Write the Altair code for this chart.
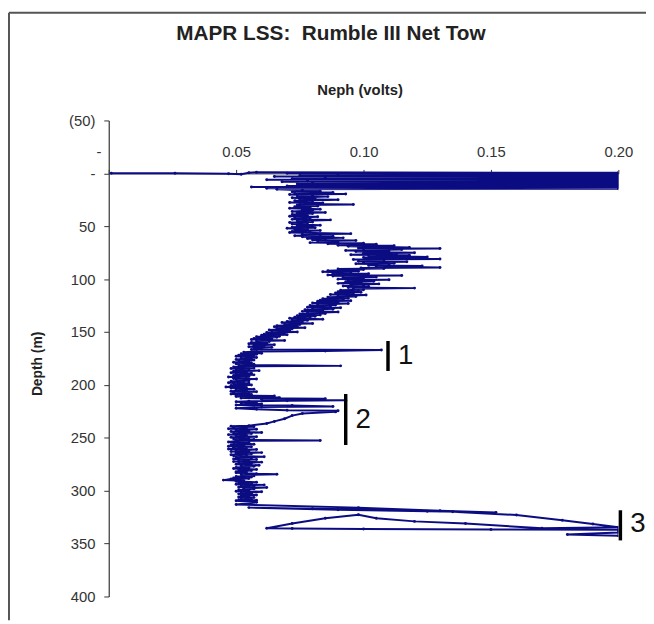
import altair as alt
import pandas as pd

TITLE = "MAPR LSS:\u00a0 Rumble III Net Tow"
X_TITLE = "Neph (volts)"
Y_TITLE = "Depth (m)"
x_ticks = [0, 0.05, 0.10, 0.15, 0.20]
y_ticks = [-50, 0, 50, 100, 150, 200, 250, 300, 350, 400]

# (depth m, neph volts) read from the profile, in tow order
seg_surface = [(0.0, 0.001), (0.0, 0.026), (0.3, 0.047), (0.8, 0.052), (-0.5, 0.055)]
seg_block = [(-1.0, 0.058), (-0.5, 0.2), (0.0, 0.07), (0.5, 0.2), (1.0, 0.09), (1.5, 0.2),
             (2.0, 0.075), (2.5, 0.2), (3.0, 0.065), (3.5, 0.2), (4.0, 0.085), (4.5, 0.2),
             (5.0, 0.072), (5.5, 0.2), (6.0, 0.062), (6.5, 0.2), (7.0, 0.078), (7.5, 0.2),
             (8.0, 0.068), (8.5, 0.2), (9.0, 0.08), (9.5, 0.2), (10.0, 0.074), (10.5, 0.2),
             (11.0, 0.082), (11.5, 0.2), (12.0, 0.07), (12.5, 0.2), (13.0, 0.056), (13.5, 0.2),
             (14.0, 0.062), (14.5, 0.2), (15.0, 0.066)]
seg_upper = [(16, 0.076), (17, 0.083), (17.5, 0.072), (18, 0.088), (19, 0.073), (19.5, 0.093),
             (20, 0.071), (21, 0.08), (21.5, 0.074), (22, 0.086), (23, 0.072), (24, 0.081),
             (24.5, 0.075), (25, 0.09), (26, 0.073), (27, 0.08), (27.5, 0.071), (28, 0.084),
             (29, 0.075), (29.5, 0.096), (30, 0.074), (31, 0.082), (31.5, 0.073), (32, 0.079),
             (33, 0.071), (34, 0.083), (34.5, 0.076), (35, 0.08), (36, 0.072), (37, 0.085),
             (37.5, 0.074), (38, 0.08), (39, 0.072), (40, 0.078), (40.5, 0.071), (41, 0.082),
             (42, 0.073), (43, 0.079), (43.5, 0.072), (44, 0.087), (45, 0.074), (46, 0.08),
             (46.5, 0.071), (47, 0.078), (48, 0.072), (49, 0.083), (49.5, 0.074), (50, 0.08)]
seg_shift = [(51, 0.072), (51.5, 0.081), (52, 0.07), (53, 0.078), (53.5, 0.073), (54, 0.083),
             (55, 0.072), (55.5, 0.079), (56, 0.071), (57, 0.095), (57.5, 0.076), (58, 0.083),
             (59, 0.073), (59.5, 0.088), (60, 0.076), (61, 0.092), (61.5, 0.078), (62, 0.085),
             (63, 0.08), (63.5, 0.097), (64, 0.082), (65, 0.09), (65.5, 0.079), (66, 0.1)]
seg_peak = [(66.5, 0.086), (67, 0.105), (68, 0.09), (68.5, 0.112), (69, 0.094), (70, 0.118),
            (70.5, 0.098), (71, 0.13), (71.5, 0.1), (72, 0.115), (73, 0.093), (73.5, 0.11),
            (74, 0.097), (75, 0.12), (75.5, 0.1), (76, 0.113), (77, 0.095), (77.5, 0.118),
            (78, 0.102), (79, 0.125), (79.5, 0.1), (80, 0.112), (81, 0.13), (81.5, 0.096),
            (82, 0.108), (83, 0.098), (83.5, 0.117), (84, 0.1), (85, 0.112), (85.5, 0.097),
            (86, 0.11), (87, 0.102), (87.5, 0.123), (88, 0.105), (89, 0.13), (89.5, 0.099),
            (90, 0.108)]
seg_mid = [(90.5, 0.09), (91, 0.1), (92, 0.086), (92.5, 0.098), (93, 0.084), (94, 0.095),
           (94.5, 0.088), (95, 0.102), (96, 0.086), (96.5, 0.115), (97, 0.088), (98, 0.105),
           (98.5, 0.092), (99, 0.1), (100, 0.09), (100.5, 0.11), (101, 0.094), (102, 0.104),
           (102.5, 0.093), (103, 0.099), (104, 0.09), (104.5, 0.106), (105, 0.095), (106, 0.1),
           (106.5, 0.092), (107, 0.102), (108, 0.094), (108.5, 0.12), (109, 0.096), (110, 0.1),
           (110.5, 0.091), (111, 0.098), (112, 0.09), (112.5, 0.099), (113, 0.089), (114, 0.096),
           (114.5, 0.087), (115, 0.101), (116, 0.09), (116.5, 0.097), (117, 0.086)]
seg_decline = [(118, 0.094), (118.5, 0.084), (119, 0.092), (120, 0.083), (120.5, 0.095),
               (121, 0.082), (122, 0.09), (122.5, 0.08), (123, 0.094), (124, 0.082),
               (124.5, 0.089), (125, 0.079), (126, 0.087), (126.5, 0.078), (127, 0.091),
               (128, 0.08), (128.5, 0.088), (129, 0.077), (130, 0.084), (130.5, 0.076),
               (131, 0.09), (132, 0.078), (132.5, 0.085), (133, 0.075), (134, 0.083),
               (134.5, 0.074), (135, 0.081), (136, 0.073), (136.5, 0.079), (137, 0.071),
               (138, 0.084), (138.5, 0.072), (139, 0.078), (140, 0.07), (140.5, 0.076),
               (141, 0.068), (142, 0.08), (142.5, 0.069), (143, 0.075), (144, 0.066),
               (144.5, 0.074), (145, 0.065), (146, 0.077), (146.5, 0.066), (147, 0.072),
               (148, 0.063), (148.5, 0.071), (149, 0.064), (150, 0.074), (150.5, 0.062),
               (151, 0.069), (152, 0.061), (152.5, 0.07), (153, 0.06), (154, 0.067)]
seg_event1 = [(154.5, 0.058), (155, 0.066), (156, 0.057), (156.5, 0.064), (157, 0.056),
              (158, 0.069), (158.5, 0.058), (159, 0.063), (160, 0.056), (160.5, 0.062),
              (161, 0.055), (162, 0.065), (162.5, 0.057), (163, 0.061), (164, 0.055),
              (164.5, 0.064), (165, 0.057), (166, 0.06), (166.5, 0.056), (167, 0.107),
              (168, 0.085), (168.5, 0.058)]
seg_minimum = [(169, 0.053), (170, 0.06), (170.5, 0.052), (171, 0.058), (172, 0.051),
               (172.5, 0.057), (173, 0.05), (174, 0.058), (174.5, 0.052), (175, 0.056),
               (176, 0.05), (176.5, 0.057), (177, 0.051), (178, 0.055), (178.5, 0.049),
               (179, 0.056), (180, 0.05), (180.5, 0.057), (181, 0.051), (182, 0.091),
               (182.5, 0.053), (183, 0.049), (184, 0.057), (184.5, 0.048), (185, 0.055),
               (186, 0.05), (186.5, 0.059), (187, 0.049), (188, 0.054), (188.5, 0.048),
               (189, 0.056), (190, 0.05), (190.5, 0.057), (191, 0.049), (192, 0.055),
               (192.5, 0.047), (193, 0.054), (194, 0.049), (194.5, 0.058), (195, 0.05),
               (196, 0.055), (196.5, 0.048), (197, 0.053), (198, 0.047), (198.5, 0.055),
               (199, 0.049), (200, 0.056), (200.5, 0.048), (201, 0.053), (202, 0.046),
               (202.5, 0.054), (203, 0.048), (204, 0.057), (204.5, 0.05), (205, 0.054),
               (206, 0.048), (206.5, 0.058), (207, 0.049), (208, 0.055), (208.5, 0.048),
               (209, 0.056), (210, 0.05)]
seg_event2 = [(210.5, 0.065), (211, 0.05), (212, 0.067), (212.5, 0.052), (213, 0.085),
              (213.5, 0.06), (214.5, 0.093), (215, 0.07), (215.5, 0.055), (216, 0.05),
              (217, 0.058), (217.5, 0.052), (218, 0.06), (219, 0.05), (219.5, 0.072),
              (220.5, 0.088), (221, 0.06), (222, 0.05), (223, 0.058), (224, 0.07),
              (224.5, 0.09), (225.5, 0.089), (227, 0.076), (229, 0.072), (232, 0.069),
              (234.5, 0.065), (236.5, 0.062), (238.5, 0.055)]
seg_lower = [(239, 0.048), (239.5, 0.057), (240, 0.049), (241, 0.054), (241.5, 0.047),
             (242, 0.058), (243, 0.05), (243.5, 0.055), (244, 0.048), (245, 0.06),
             (245.5, 0.049), (246, 0.056), (247, 0.047), (247.5, 0.054), (248, 0.05),
             (249, 0.058), (249.5, 0.048), (250, 0.055), (251, 0.049), (251.5, 0.057),
             (252, 0.05), (252.5, 0.083), (253, 0.05), (254, 0.047), (254.5, 0.055),
             (255, 0.049), (256, 0.057), (256.5, 0.048), (257, 0.053), (258, 0.047),
             (258.5, 0.056), (259, 0.049), (260, 0.054), (260.5, 0.047), (261, 0.058),
             (262, 0.05), (262.5, 0.055), (263, 0.048), (264, 0.06), (264.5, 0.05),
             (265, 0.056), (266, 0.048), (266.5, 0.054), (267, 0.049), (268, 0.061),
             (268.5, 0.05), (269, 0.056), (270, 0.049), (270.5, 0.058), (271, 0.051),
             (272, 0.055), (272.5, 0.049), (273, 0.06), (274, 0.051), (274.5, 0.056),
             (275, 0.05), (276, 0.059), (276.5, 0.052), (277, 0.057), (278, 0.05),
             (278.5, 0.055), (279, 0.049), (280, 0.058), (280.5, 0.051), (281, 0.056),
             (282, 0.05), (282.5, 0.054), (283, 0.05), (284, 0.058), (284.5, 0.066),
             (285, 0.052), (286, 0.057), (286.5, 0.05), (287, 0.056), (288, 0.049),
             (288.5, 0.055), (289, 0.048), (290, 0.045), (290.5, 0.053), (291, 0.05),
             (292, 0.058), (292.5, 0.051), (293, 0.056), (294, 0.05), (294.5, 0.061),
             (295, 0.052), (296, 0.057), (296.5, 0.051), (297, 0.062), (298, 0.053),
             (298.5, 0.057), (299, 0.051), (300, 0.055), (300.5, 0.05), (301, 0.06),
             (302, 0.052), (302.5, 0.056), (303, 0.051), (304, 0.058), (304.5, 0.052),
             (305, 0.055), (306, 0.051), (306.5, 0.057), (307, 0.052), (308, 0.056),
             (308.5, 0.051), (309, 0.058)]
seg_event3 = [(309.5, 0.05), (311, 0.058), (313, 0.05), (316, 0.098), (319, 0.13),
              (320.5, 0.152), (319.5, 0.125), (318, 0.09), (316, 0.055), (317, 0.08),
              (318, 0.11), (320, 0.135), (323, 0.16), (328, 0.178), (331.5, 0.19),
              (334.5, 0.2), (335.5, 0.17), (331, 0.14), (329, 0.12), (326, 0.105),
              (322.7, 0.098), (326, 0.085), (331, 0.072), (335.5, 0.062), (335.8, 0.072),
              (336.2, 0.1), (336.6, 0.15), (337, 0.2), (339.5, 0.2), (341.5, 0.18),
              (342.5, 0.2)]

segments = [seg_surface, seg_block, seg_upper, seg_shift, seg_peak, seg_mid, seg_decline,
            seg_event1, seg_minimum, seg_event2, seg_lower, seg_event3]

# event markers
ann_label = ["1", "2", "3"]
ann_neph = [0.1096, 0.093, 0.2008]
ann_top = [158.5, 208.6, 318.5]
ann_bottom = [186.8, 256.8, 347.0]
ann_mid = [173.0, 233.5, 331.5]

rows = []
for seg in segments:
    for d, v in seg:
        rows.append({"depth": d, "neph": v, "idx": len(rows)})
df = pd.DataFrame(rows)
ann = pd.DataFrame({"label": ann_label, "neph": ann_neph, "top": ann_top,
                    "bottom": ann_bottom, "mid": ann_mid})

NB = "\u00a0"
FONT = "Liberation Sans"
NAVY = "#0c0c82"

xscale = alt.Scale(domain=[0, 0.2], nice=False, zero=True)
yscale = alt.Scale(domain=[-50, 400], nice=False, zero=False, reverse=True)

x_axis = alt.Axis(
    orient="top", offset=-53.6, values=x_ticks,
    labelExpr="datum.value == 0 ? '-' : format(datum.value, '.2f')",
    labelAlign={"condition": {"test": "datum.value == 0", "value": "right"}, "value": "center"},
    labelOffset={"condition": {"test": "datum.value == 0", "value": -8}, "value": 0},
    title=X_TITLE, titleX=254, titleY=-85, titleBaseline="middle", titleAlign="center",
    titleFont=FONT, titleFontSize=15, titleFontWeight="bold", titleColor="#222",
    labelFont=FONT, labelFontSize=15, labelColor="#333", labelPadding=10,
    tickSize=4, tickColor="#333", domainColor="#333", domainWidth=1, grid=False,
    labelFlush=False, labelOverlap=False)
y_axis = alt.Axis(
    orient="left", values=y_ticks,
    labelExpr="datum.value < 0 ? '(' + format(-datum.value, 'd') + ')' : "
              "(datum.value == 0 ? '-" + NB * 2 + "' : format(datum.value, 'd') + '" + NB * 2 + "')",
    title=Y_TITLE, titleX=-72, titleY=246, titleAngle=-90, titleBaseline="middle",
    titleAlign="center", titleFont=FONT, titleFontSize=14, titleFontWeight="bold",
    titleColor="#222", labelFont=FONT, labelFontSize=15, labelColor="#333",
    labelPadding=9, tickSize=5, tickColor="#333", domainColor="#333", domainWidth=1.2,
    grid=False, labelFlush=False, labelOverlap=False)

base = alt.Chart(df)
line = base.mark_line(color=NAVY, strokeWidth=2.0, clip=True).encode(
    x=alt.X("neph:Q", scale=xscale, axis=x_axis),
    y=alt.Y("depth:Q", scale=yscale, axis=y_axis),
    order=alt.Order("idx:Q"))
pts = base.mark_point(color=NAVY, filled=True, size=9, opacity=1, clip=True).encode(
    x=alt.X("neph:Q", scale=xscale), y=alt.Y("depth:Q", scale=yscale))

bars = alt.Chart(ann).mark_rule(color="black", strokeWidth=3.5).encode(
    x=alt.X("neph:Q", scale=xscale), y=alt.Y("top:Q", scale=yscale), y2="bottom:Q")
labels = alt.Chart(ann).mark_text(align="left", baseline="middle", dx=10, fontSize=28,
                                  font=FONT, color="#111").encode(
    x=alt.X("neph:Q", scale=xscale), y=alt.Y("mid:Q", scale=yscale), text="label:N")

frame_src = pd.DataFrame({"k": [0]})
frame_left = alt.Chart(frame_src).mark_rule(color="#555", strokeWidth=2).encode(
    x=alt.value(-101), y=alt.value(-109), y2=alt.value(506))
frame_top = alt.Chart(frame_src).mark_rule(color="#555", strokeWidth=2).encode(
    x=alt.value(-101), x2=alt.value(544), y=alt.value(-109))

chart = alt.layer(line, pts, bars, labels, frame_left, frame_top).properties(
    width=516, height=482,
    autosize=alt.AutoSizeParams(type="none"),
    padding={"left": 102, "top": 110, "right": 28, "bottom": 24},
    title=alt.TitleParams(TITLE, font=FONT, fontSize=21, fontWeight="bold", color="#222",
                          anchor="middle", frame="group", dx=-33, offset=-33),
    background="white",
).configure_view(stroke=None)

chart.save("out.html", embed_options={"renderer": "svg", "actions": False})
